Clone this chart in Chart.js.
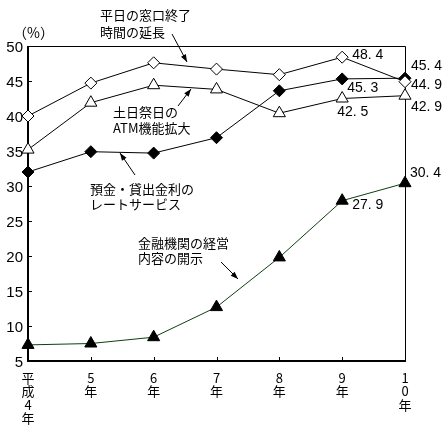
<!DOCTYPE html>
<html>
<head>
<meta charset="utf-8">
<script src="https://cdn.jsdelivr.net/npm/chart.js@4/dist/chart.umd.min.js"></script>
<style>
  html, body { margin: 0; padding: 0; background: #fff; }
  canvas { display: block; }
</style>
</head>
<body>
<canvas id="chart" width="442" height="425"></canvas>
<script>
// 平成4年〜10年
const years = [['平', '成', '4', '年'], ['5', '年'], ['6', '年'], ['7', '年'], ['8', '年'], ['9', '年'], ['1', '0', '年']];
const windowHours = [40.0, 44.7, 47.6, 46.7, 45.9, 48.4, 44.9];
const atmWeekend = [35.2, 41.9, 44.4, 43.8, 40.4, 42.5, 42.9];
const rateService = [32.0, 34.9, 34.7, 36.9, 43.6, 45.3, 45.4];
const disclosure = [7.3, 7.5, 8.4, 12.7, 19.8, 27.9, 30.4];
const yTicks = [5, 10, 15, 20, 25, 30, 35, 40, 45, 50];

const seriesList = [windowHours, atmWeekend, rateService, disclosure];

// value labels: series, point index, offset from point
const valueLabels = [
  { s: 0, i: 5, dx: 10, dy: -2 },
  { s: 2, i: 5, dx: 5, dy: 9 },
  { s: 1, i: 5, dx: -5, dy: 14 },
  { s: 2, i: 6, dx: 6, dy: -12 },
  { s: 0, i: 6, dx: 6, dy: 3 },
  { s: 1, i: 6, dx: 6, dy: 11 },
  { s: 3, i: 5, dx: 10, dy: 4 },
  { s: 3, i: 6, dx: 5, dy: -10 },
];

const JP = '"Noto Sans CJK JP", sans-serif';
const NUM = '"Liberation Sans", Arial, sans-serif';

function arrow(ctx, x1, y1, x2, y2) {
  ctx.beginPath();
  ctx.moveTo(x1, y1);
  ctx.lineTo(x2, y2);
  ctx.stroke();
  const a = Math.atan2(y2 - y1, x2 - x1);
  const len = 8, w = 0.35;
  ctx.beginPath();
  ctx.moveTo(x2, y2);
  ctx.lineTo(x2 - len * Math.cos(a - w), y2 - len * Math.sin(a - w));
  ctx.lineTo(x2 - len * Math.cos(a + w), y2 - len * Math.sin(a + w));
  ctx.closePath();
  ctx.fill();
}

const framePlugin = {
  id: 'frame',
  beforeDatasetsDraw(chart) {
    const { ctx, chartArea: a, scales } = chart;
    ctx.save();
    ctx.strokeStyle = '#000';
    // top / right border
    ctx.lineWidth = 1;
    ctx.beginPath();
    ctx.moveTo(a.left, a.top + 0.5);
    ctx.lineTo(a.right + 0.5, a.top + 0.5);
    ctx.lineTo(a.right + 0.5, a.bottom);
    ctx.stroke();
    // axes
    ctx.lineWidth = 2;
    ctx.beginPath();
    ctx.moveTo(a.left, a.top);
    ctx.lineTo(a.left, a.bottom);
    ctx.lineTo(a.right + 1, a.bottom);
    ctx.stroke();
    // inward ticks
    ctx.lineWidth = 1;
    ctx.beginPath();
    yTicks.forEach(v => {
      const y = Math.round(scales.y.getPixelForValue(v)) + 0.5;
      ctx.moveTo(a.left, y);
      ctx.lineTo(a.left + 4, y);
    });
    years.forEach((_, i) => {
      const x = Math.round(scales.x.getPixelForValue(i)) + 0.5;
      ctx.moveTo(x, a.bottom);
      ctx.lineTo(x, a.bottom - 4);
    });
    ctx.stroke();
    ctx.restore();
  },
  afterDraw(chart) {
    const { ctx, chartArea: a, scales } = chart;
    ctx.save();
    ctx.fillStyle = '#000';
    ctx.strokeStyle = '#000';
    ctx.lineWidth = 1;

    // y tick labels
    ctx.font = '15px ' + NUM;
    ctx.textAlign = 'right';
    ctx.textBaseline = 'middle';
    yTicks.forEach(v => {
      ctx.fillText(String(v), a.left - 5, scales.y.getPixelForValue(v) + 2);
    });

    // x tick labels, stacked vertically
    ctx.font = '13px ' + JP;
    ctx.textAlign = 'center';
    ctx.textBaseline = 'middle';
    years.forEach((chars, i) => {
      const x = scales.x.getPixelForValue(i);
      chars.forEach((c, k) => ctx.fillText(c, x, a.bottom + 17 + k * 13.5));
    });

    // unit
    ctx.font = '14px ' + JP;
    ctx.textAlign = 'left';
    ctx.fillText('（%）', 13, 33);

    // value labels
    ctx.font = '14px ' + NUM;
    ctx.textAlign = 'left';
    valueLabels.forEach(l => {
      const v = seriesList[l.s][l.i];
      const x = scales.x.getPixelForValue(l.i) + l.dx;
      const y = scales.y.getPixelForValue(v) + l.dy;
      ctx.fillText(v.toFixed(1).replace('.', '. '), x, y);
    });

    // annotations
    ctx.font = '13px ' + JP;
    ctx.textAlign = 'left';
    ctx.fillText('平日の窓口終了', 100, 15);
    ctx.fillText('時間の延長', 100, 32);
    arrow(ctx, 172, 34, 187, 62);

    ctx.fillText('土日祭日の', 113, 112);
    ctx.fillText('ATM機能拡大', 113, 128);
    arrow(ctx, 178, 106, 191, 89);

    ctx.fillText('預金・貸出金利の', 90, 189);
    ctx.fillText('レートサービス', 90, 204);
    arrow(ctx, 135, 175, 120, 153);

    ctx.fillText('金融機関の経営', 138, 243);
    ctx.fillText('内容の開示', 138, 258);
    arrow(ctx, 221, 262, 238, 279);

    ctx.restore();
  }
};

function series(data, style, fill, color) {
  return {
    data,
    borderColor: color,
    borderWidth: 1,
    pointStyle: style,
    pointRadius: style === 'rectRot' ? 6 : 7,
    pointBackgroundColor: fill,
    pointBorderColor: '#000',
    pointBorderWidth: 1,
    tension: 0,
    clip: false,
  };
}

new Chart(document.getElementById('chart'), {
  type: 'line',
  data: {
    labels: years,
    datasets: [
      series(windowHours, 'rectRot', '#fff', '#000'),
      series(atmWeekend, 'triangle', '#fff', '#000'),
      series(rateService, 'rectRot', '#000', '#000'),
      series(disclosure, 'triangle', '#000', '#0f3f0f'),
    ],
  },
  options: {
    responsive: false,
    animation: false,
    layout: { padding: { left: 28, right: 37, top: 46, bottom: 64 } },
    plugins: { legend: { display: false }, tooltip: { enabled: false } },
    scales: {
      x: { type: 'category', offset: false, display: false },
      y: { min: 5, max: 50, display: false },
    },
  },
  plugins: [framePlugin],
});
</script>
</body>
</html>
